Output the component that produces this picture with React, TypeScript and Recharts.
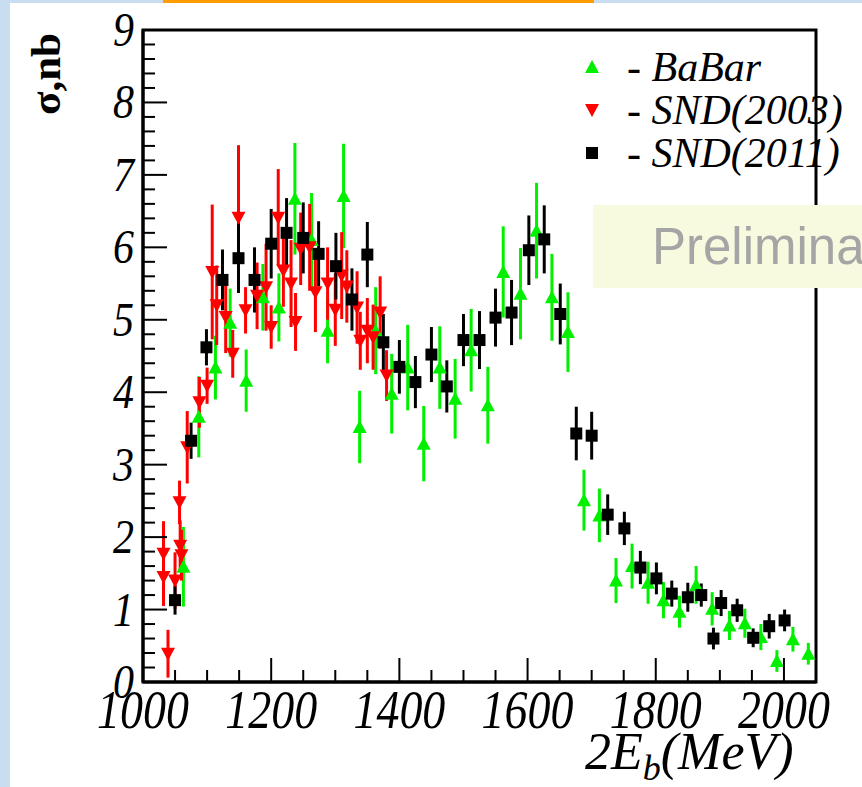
import React from "react";
import {
  ScatterChart,
  Scatter,
  XAxis,
  YAxis,
  ErrorBar,
  ReferenceArea
} from "recharts";

// BaBar (green up triangles)
const babarX = [1063, 1087, 1113, 1136, 1161, 1187, 1212, 1237, 1263, 1288, 1313, 1338, 1363, 1388, 1413, 1438, 1463, 1487, 1512, 1538, 1562, 1589, 1614, 1638, 1663, 1688, 1712, 1738, 1763, 1788, 1812, 1837, 1863, 1888, 1915, 1939, 1964, 1989, 2014, 2038];
const babarY = [1.59, 3.66, 4.34, 4.96, 4.16, 5.31, 5.17, 6.67, 6.1, 4.85, 6.71, 3.52, 4.85, 3.98, 4.34, 3.29, 4.34, 3.91, 4.58, 3.82, 5.66, 5.36, 6.23, 5.31, 4.83, 2.51, 2.3, 1.4, 1.6, 1.37, 1.13, 0.97, 1.34, 1.01, 0.78, 0.81, 0.62, 0.29, 0.59, 0.39];
const babarErr = [0.55, 0.56, 0.44, 0.47, 0.43, 0.46, 0.47, 0.77, 0.65, 0.45, 0.72, 0.5, 0.6, 0.55, 0.59, 0.52, 0.57, 0.55, 0.57, 0.53, 0.63, 0.63, 0.66, 0.6, 0.55, 0.42, 0.37, 0.31, 0.31, 0.29, 0.25, 0.22, 0.26, 0.23, 0.2, 0.2, 0.18, 0.15, 0.17, 0.15];

// SND(2003) (red down triangles)
const snd03X = [1032, 1032, 1039, 1050, 1057, 1058, 1060, 1069, 1088, 1100, 1108, 1115, 1129, 1140, 1149, 1160, 1178, 1192, 1200, 1211, 1219, 1231, 1238, 1246, 1260, 1269, 1288, 1300, 1310, 1318, 1334, 1339, 1350, 1359, 1370, 1380];
const snd03Y = [1.77, 1.45, 0.39, 1.4, 2.48, 1.88, 1.75, 3.24, 3.86, 4.09, 5.66, 5.2, 5.04, 4.53, 6.41, 5.13, 5.33, 5.45, 4.9, 6.41, 5.68, 5.5, 4.97, 5.98, 6.0, 5.38, 5.5, 5.14, 5.61, 5.46, 5.17, 4.71, 4.85, 4.76, 5.1, 4.23];
const snd03Err = [0.45, 0.4, 0.33, 0.39, 0.3, 0.35, 0.35, 0.5, 0.35, 0.25, 0.93, 0.55, 0.5, 0.33, 1.0, 0.32, 0.46, 0.6, 0.3, 0.67, 0.5, 0.6, 0.4, 0.5, 0.6, 0.55, 0.5, 0.5, 0.6, 0.5, 0.5, 0.4, 0.45, 0.45, 0.5, 0.35];

// SND(2011) (black squares)
const snd11X = [1050, 1075, 1099, 1124, 1149, 1174, 1200, 1224, 1250, 1274, 1301, 1326, 1350, 1375, 1400, 1425, 1450, 1474, 1500, 1525, 1550, 1575, 1602, 1626, 1651, 1676, 1700, 1725, 1751, 1776, 1801, 1825, 1850, 1871, 1890, 1902, 1927, 1952, 1977, 2001];
const snd11Y = [1.13, 3.33, 4.62, 5.55, 5.85, 5.55, 6.05, 6.2, 6.13, 5.91, 5.74, 5.28, 5.9, 4.69, 4.35, 4.14, 4.52, 4.08, 4.72, 4.72, 5.03, 5.1, 5.96, 6.11, 5.08, 3.43, 3.4, 2.31, 2.12, 1.58, 1.43, 1.22, 1.17, 1.2, 0.6, 1.09, 0.99, 0.61, 0.77, 0.85];
const snd11Err = [0.2, 0.25, 0.25, 0.42, 0.48, 0.45, 0.48, 0.48, 0.49, 0.45, 0.46, 0.43, 0.45, 0.39, 0.37, 0.36, 0.38, 0.36, 0.36, 0.4, 0.4, 0.45, 0.48, 0.47, 0.42, 0.37, 0.33, 0.28, 0.23, 0.23, 0.22, 0.18, 0.2, 0.16, 0.15, 0.18, 0.16, 0.13, 0.17, 0.15];

const xTicks = [1000, 1050, 1100, 1150, 1200, 1250, 1300, 1350, 1400, 1450, 1500, 1550, 1600, 1650, 1700, 1750, 1800, 1850, 1900, 1950, 2000, 2050];
const yTicks = [0, 0.2, 0.4, 0.6, 0.8, 1, 1.2, 1.4, 1.6, 1.8, 2, 2.2, 2.4, 2.6, 2.8, 3, 3.2, 3.4, 3.6, 3.8, 4, 4.2, 4.4, 4.6, 4.8, 5, 5.2, 5.4, 5.6, 5.8, 6, 6.2, 6.4, 6.6, 6.8, 7, 7.2, 7.4, 7.6, 7.8, 8, 8.2, 8.4, 8.6, 8.8, 9];

const GREEN = "#00f000";
const RED = "#ff0000";
const BLACK = "#000000";
const SERIF = "'Liberation Serif', 'DejaVu Serif', serif";

const build = (xs: number[], ys: number[], errs: number[]) =>
  xs.map((x, i) => ({ x, y: ys[i], err: errs[i] }));

const babar = build(babarX, babarY, babarErr);
const snd03 = build(snd03X, snd03Y, snd03Err);
const snd11 = build(snd11X, snd11Y, snd11Err);

const TriUp = (p: any) => (
  <polygon
    points={`${p.cx},${p.cy - 7} ${p.cx - 7},${p.cy + 6} ${p.cx + 7},${p.cy + 6}`}
    fill={GREEN}
  />
);
const TriDown = (p: any) => (
  <polygon
    points={`${p.cx - 7},${p.cy - 6} ${p.cx + 7},${p.cy - 6} ${p.cx},${p.cy + 7}`}
    fill={RED}
  />
);
const Square = (p: any) => (
  <rect x={p.cx - 6} y={p.cy - 6} width={12} height={12} fill={BLACK} />
);

const XTick = (props: any) => {
  const { x, y, payload } = props;
  const major = payload.value % 200 === 0;
  return (
    <g>
      <line x1={x} y1={y} x2={x} y2={y - (major ? 24 : 12)} stroke="#000" strokeWidth={2} />
      {major && (
        <text
          transform={`translate(${x},${y + 46}) scale(1,1.18)`}
          textAnchor="middle"
          fontFamily={SERIF}
          fontStyle="italic"
          fontSize={46}
          fill="#000"
        >
          {payload.value}
        </text>
      )}
    </g>
  );
};

const YTick = (props: any) => {
  const { x, y, payload } = props;
  const major = Math.abs(payload.value - Math.round(payload.value)) < 1e-6;
  return (
    <g>
      <line x1={x} y1={y} x2={x + (major ? 24 : 12)} y2={y} stroke="#000" strokeWidth={2} />
      {major && (
        <text
          transform={`translate(${x - 9},${y + 16}) scale(1,1.15)`}
          textAnchor="end"
          fontFamily={SERIF}
          fontStyle="italic"
          fontSize={42}
          fill="#000"
        >
          {Math.round(payload.value)}
        </text>
      )}
    </g>
  );
};

const legendItems = [
  { label: "- BaBar", marker: "up", color: GREEN },
  { label: "- SND(2003)", marker: "down", color: RED },
  { label: "- SND(2011)", marker: "square", color: BLACK }
];

export default function App() {
  return (
    <div style={{ position: "absolute", left: 0, top: 0, width: 862, height: 787, background: "#fff", overflow: "hidden" }}>
      {/* slide background strips */}
      <div style={{ position: "absolute", left: 0, top: 0, width: 10, height: 787, background: "#c9ddf1" }} />
      <div style={{ position: "absolute", left: 0, top: 0, width: 862, height: 3, background: "#c9ddf1" }} />
      <div style={{ position: "absolute", left: 163, top: 0, width: 431, height: 3, background: "#ff9c00" }} />

      <ScatterChart width={862} height={787} margin={{ top: 30, right: 46, bottom: 0, left: 0 }}>
        <XAxis
          type="number"
          dataKey="x"
          domain={[1000, 2050]}
          ticks={xTicks}
          interval={0}
          height={105}
          tickSize={0}
          tickMargin={0}
          tick={<XTick />}
          axisLine={{ stroke: "#000", strokeWidth: 3 }}
          allowDataOverflow
        />
        <YAxis
          type="number"
          dataKey="y"
          domain={[0, 9]}
          ticks={yTicks}
          interval={0}
          width={143}
          tickSize={0}
          tickMargin={0}
          tick={<YTick />}
          axisLine={{ stroke: "#000", strokeWidth: 3 }}
          allowDataOverflow
        />
        <ReferenceArea x1={1000} x2={2050} y1={0} y2={9} fill="none" fillOpacity={0} stroke="#000" strokeWidth={3} />
        <Scatter data={babar} shape={TriUp} isAnimationActive={false}>
          <ErrorBar dataKey="err" direction="y" width={0} stroke={GREEN} strokeWidth={3} />
        </Scatter>
        <Scatter data={snd03} shape={TriDown} isAnimationActive={false}>
          <ErrorBar dataKey="err" direction="y" width={0} stroke={RED} strokeWidth={3} />
        </Scatter>
        <Scatter data={snd11} shape={Square} isAnimationActive={false}>
          <ErrorBar dataKey="err" direction="y" width={0} stroke={BLACK} strokeWidth={3} />
        </Scatter>
      </ScatterChart>

      {/* legend */}
      {legendItems.map((it, i) => (
        <div key={it.label} style={{ position: "absolute", left: 582, top: 46 + i * 43, height: 42, display: "flex", alignItems: "center" }}>
          <svg width={20} height={20} style={{ marginRight: 25 }}>
            {it.marker === "up" && <polygon points="10,3 3,16 17,16" fill={it.color} />}
            {it.marker === "down" && <polygon points="3,4 17,4 10,17" fill={it.color} />}
            {it.marker === "square" && <rect x={4} y={4} width={12} height={12} fill={it.color} />}
          </svg>
          <span style={{ fontFamily: SERIF, fontStyle: "italic", fontSize: 42, lineHeight: "42px", color: "#000", whiteSpace: "nowrap" }}>
            {it.label}
          </span>
        </div>
      ))}

      {/* axis titles */}
      <div style={{ position: "absolute", left: 45, top: 74, transform: "translate(-50%, -50%) rotate(-90deg)", fontFamily: SERIF, fontWeight: "bold", fontSize: 43, whiteSpace: "nowrap" }}>
        σ,nb
      </div>
      <div style={{ position: "absolute", left: 585, top: 726, fontFamily: SERIF, fontStyle: "italic", fontSize: 52, lineHeight: "52px", whiteSpace: "nowrap" }}>
        2E<sub style={{ fontSize: 36 }}>b</sub>(MeV)
      </div>

      {/* preliminary overlay */}
      <div style={{ position: "absolute", left: 593, top: 205, width: 280, height: 83, background: "#f8fadf" }}>
        <div style={{ position: "absolute", left: 59, top: 14, fontFamily: "'Liberation Sans', Arial, sans-serif", fontSize: 51, lineHeight: "56px", color: "#a5a5a5", whiteSpace: "nowrap" }}>
          Preliminary
        </div>
      </div>
    </div>
  );
}
